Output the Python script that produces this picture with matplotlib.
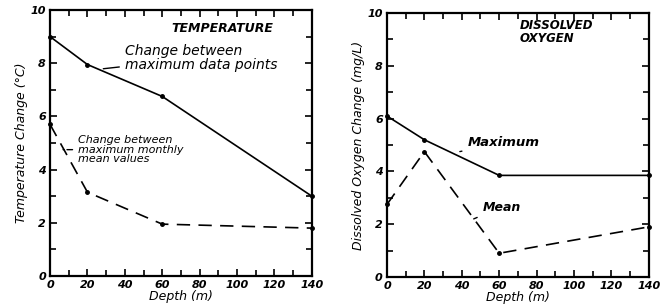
import matplotlib
matplotlib.use("Agg")
import matplotlib.pyplot as plt
from matplotlib.ticker import MultipleLocator

depth = [0, 20, 60, 140]
temp_max = [9.0, 7.95, 6.75, 3.0]
temp_mean = [5.7, 3.15, 1.95, 1.8]
do_max = [6.1, 5.2, 3.85, 3.85]
do_mean = [2.75, 4.75, 0.9, 1.9]
xticks = [0, 20, 40, 60, 80, 100, 120, 140]
yticks = [0, 2, 4, 6, 8, 10]

plt.rcParams['font.family'] = ['DejaVu Sans']
fig = plt.figure(figsize=(6.68, 3.08), dpi=100)
ax1 = fig.add_axes([0.0749, 0.1039, 0.392, 0.8636])
ax2 = fig.add_axes([0.5793, 0.1006, 0.392, 0.857])

tickfont = dict(style='italic', weight='bold', size=8)
labfont = dict(style='italic', size=9)

def style(ax, ylabel):
    ax.set_xlim(0, 140)
    ax.set_ylim(0, 10)
    ax.set_xticks(xticks)
    ax.set_yticks(yticks)
    ax.xaxis.set_minor_locator(MultipleLocator(10))
    ax.yaxis.set_minor_locator(MultipleLocator(1))
    ax.tick_params(which='both', direction='in', top=True, right=True,
                   width=1.2, length=4, pad=3)
    ax.tick_params(which='major', length=5)
    for s in ax.spines.values():
        s.set_linewidth(1.6)
    ax.set_xticklabels([str(v) for v in xticks], **tickfont)
    ax.set_yticklabels([str(v) for v in yticks], **tickfont)
    ax.set_xlabel('Depth (m)', labelpad=0, **labfont)
    ax.set_ylabel(ylabel, labelpad=2, **labfont)

style(ax1, 'Temperature Change (°C)')
style(ax2, 'Dissolved Oxygen Change (mg/L)')

kw = dict(color='black', lw=1.2, marker='o', ms=2.5, clip_on=False, zorder=3)
ax1.plot(depth, temp_max, **kw)
ax1.plot(depth, temp_mean, dashes=(8, 5), **kw)
ax2.plot(depth, do_max, **kw)
ax2.plot(depth, do_mean, dashes=(8, 5), **kw)

ax1.text(65, 9.3, 'TEMPERATURE', fontsize=9, style='italic', weight='bold',
         ha='left', va='center')
ax1.annotate('Change between\nmaximum data points', xy=(27, 7.78),
             xytext=(40, 8.2), fontsize=10, style='italic', ha='left',
             va='center', linespacing=0.95,
             arrowprops=dict(arrowstyle='-', color='black', lw=1))
ax1.annotate('Change between\nmaximum monthly\nmean values', xy=(5.5, 4.75),
             xytext=(15, 4.75), fontsize=8, style='italic', ha='left',
             va='center', linespacing=0.95,
             arrowprops=dict(arrowstyle='-', color='black', lw=1,
                             linestyle=(0, (4, 2))))

ax2.text(71, 9.3, 'DISSOLVED\nOXYGEN', fontsize=8.5, style='italic',
         weight='bold', ha='left', va='center', linespacing=1.0)
ax2.annotate('Maximum', xy=(37.5, 4.73), xytext=(43, 5.1), fontsize=9.5,
             style='italic', weight='bold', ha='left', va='center',
             arrowprops=dict(arrowstyle='-', color='black', lw=1))
ax2.annotate('Mean', xy=(45, 2.16), xytext=(51, 2.65), fontsize=9,
             style='italic', weight='bold', ha='left', va='center',
             arrowprops=dict(arrowstyle='-', color='black', lw=1))

fig.savefig('out.png', dpi=100)
